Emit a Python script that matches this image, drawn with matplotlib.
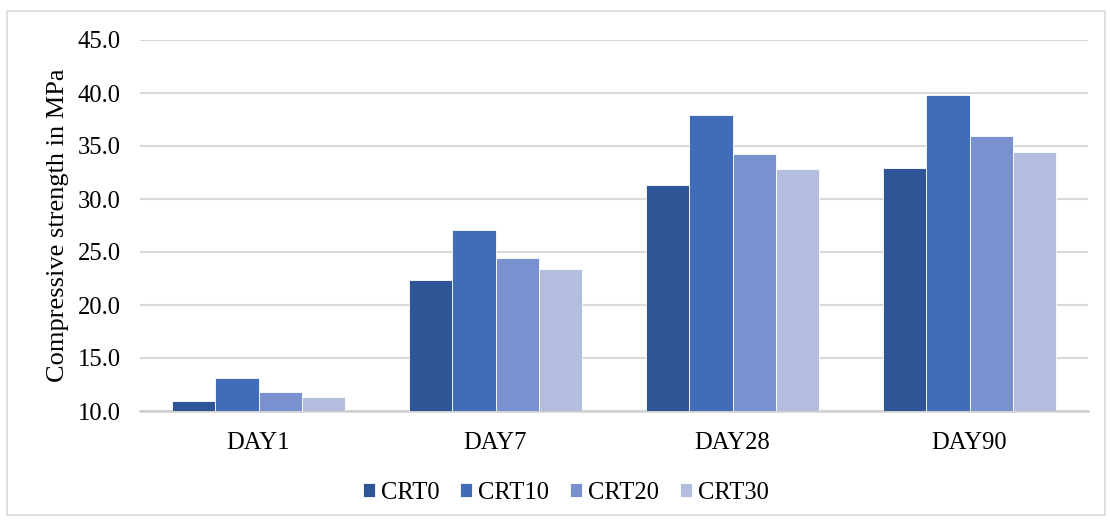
import matplotlib.pyplot as plt
import numpy as np
from matplotlib.patches import Rectangle

plt.rcParams["font.family"] = ["Liberation Serif", "DejaVu Serif"]

DAYS = ["DAY1", "DAY7", "DAY28", "DAY90"]
SERIES = ["CRT0", "CRT10", "CRT20", "CRT30"]
CRT0 = [10.9, 22.4, 31.3, 32.9]
CRT10 = [13.1, 27.1, 37.9, 39.8]
CRT20 = [11.8, 24.4, 34.2, 35.9]
CRT30 = [11.3, 23.4, 32.8, 34.4]
Y_TICKS = [10.0, 15.0, 20.0, 25.0, 30.0, 35.0, 40.0, 45.0]

COLORS = {
    "CRT0": "#2F5597",
    "CRT10": "#416CB9",
    "CRT20": "#7991CE",
    "CRT30": "#B3BEDF",
}

values = {"CRT0": CRT0, "CRT10": CRT10, "CRT20": CRT20, "CRT30": CRT30}

FS = 17.7

fig = plt.figure(figsize=(11.1, 5.2), dpi=100)
ax = fig.add_axes([140 / 1110, 1 - 411 / 520, 948 / 1110, 371 / 520])

# chart frame around the whole figure
fig.patches.append(
    Rectangle((7 / 1110, 5 / 520), 1098 / 1110, 504 / 520,
              transform=fig.transFigure, fill=False,
              edgecolor="#D9D9D9", linewidth=1.2)
)

x = np.arange(len(DAYS))
n = len(SERIES)
width = 1 / (n + 1.5)
for i, name in enumerate(SERIES):
    offs = (i - (n - 1) / 2) * width
    ax.bar(x + offs, np.array(values[name]) - 10.0, width, bottom=10.0,
           color=COLORS[name], edgecolor="white", linewidth=0.6,
           label=name, zorder=3)

ax.set_ylim(10, 45)
ax.set_xlim(-0.5, len(DAYS) - 0.5)
ax.set_yticks(Y_TICKS)
ax.set_yticklabels([f"{t:.1f}" for t in Y_TICKS], fontsize=FS)
ax.set_xticks(x)
ax.set_xticklabels(DAYS, fontsize=FS)
ax.tick_params(axis="both", length=0)
ax.tick_params(axis="y", pad=14)
ax.tick_params(axis="x", pad=15)

ax.grid(axis="y", color="#D9D9D9", linewidth=1.5, zorder=0)
for side in ["top", "right", "left"]:
    ax.spines[side].set_visible(False)
ax.spines["bottom"].set_color("#D0D0D0")
ax.spines["bottom"].set_linewidth(1.8)

ax.set_ylabel("Compressive strength in MPa", fontsize=19, labelpad=6)

ax.legend(loc="center", bbox_to_anchor=(566 / 1110, 1 - 493 / 520),
          bbox_transform=fig.transFigure, ncol=4, frameon=False,
          fontsize=FS, handlelength=0.48, handleheight=0.48,
          handletextpad=0.25, columnspacing=0.85)

fig.savefig("out.png", dpi=100)
